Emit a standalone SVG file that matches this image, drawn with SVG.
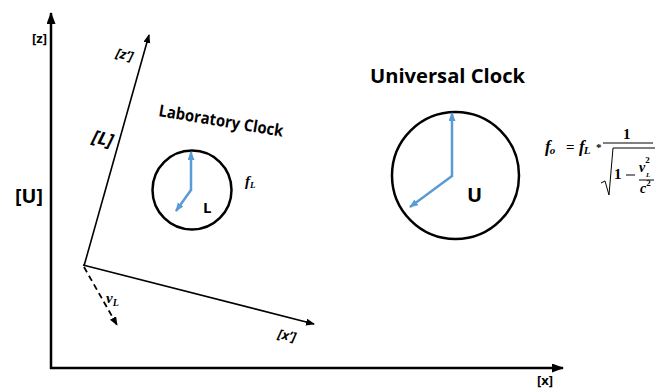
<svg xmlns="http://www.w3.org/2000/svg" width="670" height="389" viewBox="0 0 670 389">
<style>
.ax{stroke:#000;fill:none}
.lbl{font-family:"Open Sans","Liberation Sans",sans-serif;fill:#000}
.b{font-weight:bold}
.it{font-style:italic}
.math{font-family:"Liberation Serif",serif;font-weight:bold;font-style:italic;fill:#000}
.mathr{font-family:"Liberation Serif",serif;font-weight:bold;fill:#000}
.clock{fill:#fff;stroke:#000;stroke-width:2.5}
.hand{stroke:#5b9bd5;stroke-width:2.5;fill:none}
</style>
<defs>
<marker id="ah" markerUnits="userSpaceOnUse" markerWidth="12" markerHeight="10" refX="11" refY="4.5" orient="auto">
<path d="M0,0 L12,4.5 L0,9 z" fill="#000"/>
</marker>
<marker id="ahs" markerUnits="userSpaceOnUse" markerWidth="9" markerHeight="8" refX="8" refY="3.5" orient="auto">
<path d="M0,0 L9,3.5 L0,7 z" fill="#000"/>
</marker>
<marker id="ahb" markerUnits="userSpaceOnUse" markerWidth="9" markerHeight="8" refX="8" refY="3.5" orient="auto">
<path d="M0,0 L9,3.5 L0,7 z" fill="#5b9bd5"/>
</marker>
</defs>
<rect width="670" height="389" fill="#fff"/>
<g id="connectors">
<line class="ax" x1="51" y1="369" x2="51" y2="13" stroke-width="2.5" marker-end="url(#ah)"/>
<line class="ax" x1="50" y1="368" x2="563" y2="368" stroke-width="2.5" marker-end="url(#ah)"/>
<line class="ax" x1="84" y1="266" x2="149" y2="35" stroke-width="1.6" marker-end="url(#ahs)"/>
<line class="ax" x1="83" y1="265" x2="314" y2="324" stroke-width="1.6" marker-end="url(#ahs)"/>
<line class="ax" x1="84" y1="267" x2="117" y2="325" stroke-width="1.8" stroke-dasharray="6,4" marker-end="url(#ahs)"/>
</g>
<g id="axis-labels">
<text class="lbl b" x="32" y="43" font-size="13">[z]</text>
<text class="lbl b" x="15" y="203" font-size="20" textLength="28" lengthAdjust="spacingAndGlyphs">[U]</text>
<text class="lbl b" x="537" y="385" font-size="13">[x]</text>
<text class="lbl b it" transform="translate(115,57) rotate(14)" font-size="13">[z’]</text>
<text class="lbl b it" transform="translate(91,142) rotate(14)" font-size="18">[L]</text>
<text class="lbl b it" transform="translate(277,338) rotate(12)" font-size="13">[x’]</text>
<text class="math" x="106" y="303" font-size="15" font-weight="normal">v<tspan font-size="10" dy="3">L</tspan></text>
</g>
<g id="lab-clock">
<text class="lbl b" transform="translate(158,116) rotate(9.5)" font-size="16.5" textLength="126" lengthAdjust="spacingAndGlyphs">Laboratory Clock</text>
<circle class="clock" cx="192" cy="190" r="39.5"/>
<line class="hand" x1="191" y1="191" x2="191" y2="152" marker-end="url(#ahb)"/>
<line class="hand" x1="191" y1="190" x2="176" y2="211" marker-end="url(#ahb)"/>
<text class="lbl b" x="203" y="213" font-size="15">L</text>
<text class="math" x="245" y="186" font-size="15" font-weight="normal">f<tspan font-size="9" dy="2">L</tspan></text>
</g>
<g id="universal-clock">
<text class="lbl b" x="370" y="83" font-size="19" textLength="155" lengthAdjust="spacingAndGlyphs">Universal Clock</text>
<circle class="clock" cx="455.5" cy="175.5" r="63.5"/>
<line class="hand" x1="452" y1="177" x2="452" y2="113" marker-end="url(#ahb)"/>
<line class="hand" x1="452" y1="176" x2="410" y2="207" marker-end="url(#ahb)"/>
<text class="lbl b" x="467" y="202" font-size="20">U</text>
</g>
<g id="formula">
<text class="math" x="545" y="152" font-size="17">f<tspan font-size="11" dx="-1" dy="2">o</tspan></text>
<text class="mathr" x="566" y="152" font-size="15" font-weight="normal">=</text>
<text class="math" x="579" y="152" font-size="17">f<tspan font-size="11" dx="-1" dy="2">L</tspan></text>
<text class="mathr" x="596" y="151" font-size="11" font-weight="normal">*</text>
<line x1="603" y1="143" x2="653" y2="143" stroke="#000" stroke-width="1"/>
<text class="mathr" x="623" y="139" font-size="15">1</text>
<polyline points="601,183 605,181 609,195 613,148 655,148" fill="none" stroke="#000" stroke-width="1"/>
<text class="mathr" x="614" y="179" font-size="15">1</text>
<line x1="626" y1="175" x2="635" y2="175" stroke="#000" stroke-width="1"/>
<text class="math" x="639" y="172" font-size="14"><tspan>v</tspan><tspan class="mathr" font-size="9" dy="-9" font-style="normal">2</tspan></text>
<text class="math" x="646" y="177" font-size="7">L</text>
<line x1="639" y1="180" x2="654" y2="180" stroke="#000" stroke-width="1"/>
<text class="math" x="640" y="193" font-size="14"><tspan>c</tspan><tspan font-size="9" dy="-7" font-style="normal">2</tspan></text>
</g>
</svg>
